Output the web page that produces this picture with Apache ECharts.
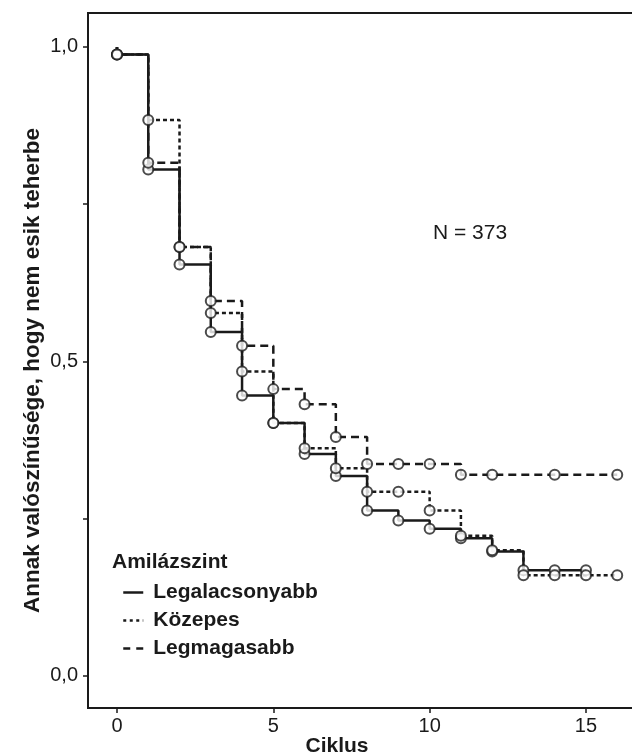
<!DOCTYPE html>
<html>
<head>
<meta charset="utf-8">
<script src="https://cdn.jsdelivr.net/npm/echarts@6/dist/echarts.min.js"></script>
<style>
html,body{margin:0;padding:0;background:#fff;}
#chart{width:632px;height:755px;}
</style>
</head>
<body>
<div id="chart"></div>
<script>
// ---- data ----
const START_VALUE = 1.0;
const lowTimes = [0,1,2,3,4,5,6,7,8,9,10,11,12,13,14,15];
const lowValues = [0.988,0.805,0.654,0.547,0.446,0.402,0.353,0.318,0.263,0.247,0.234,0.219,0.198,0.168,0.168,0.168];
const lowCensor = [0,1,2,3,4,5,6,7,8,9,10,11,12,13,14,15];

const midTimes = [0,1,2,3,4,5,6,7,8,9,10,11,12,13,14,15,16];
const midValues = [0.988,0.884,0.682,0.577,0.484,0.402,0.362,0.330,0.293,0.293,0.263,0.223,0.200,0.160,0.160,0.160,0.160];
const midCensor = [0,1,2,3,4,5,6,7,8,9,10,11,12,13,14,15,16];

const highTimes = [0,1,2,3,4,5,6,7,8,9,10,11,12,13,14,15,16];
const highValues = [0.988,0.816,0.682,0.596,0.525,0.456,0.432,0.380,0.337,0.337,0.337,0.320,0.320,0.320,0.320,0.320,0.320];
const highCensor = [0,1,2,3,4,5,6,7,8,9,10,11,12,14,16];

const seriesNames = ['Legalacsonyabb','Közepes','Legmagasabb'];
const legendTitle = 'Amilázszint';
const xTicks = [0,5,10,15];
const yTicks = [0,0.5,1.0];
const yMinorTicks = [0,0.25,0.5,0.75,1.0];
const xName = 'Ciklus';
const yName = 'Annak valószínűsége, hogy nem esik teherbe';
const annotation = 'N = 373';

// ---- build ----
function stepData(times, values){
  const d = [[times[0], START_VALUE]];
  for (let i=0;i<times.length;i++) d.push([times[i], values[i]]);
  return d;
}
function censorData(times, values, censor){
  return censor.map(t => [t, values[times.indexOf(t)]]);
}
const INK = '#1a1a1a';
const FONT = '"Liberation Sans", Arial, sans-serif';
const lineStyles = [
  {type:'solid', width:2.5},
  {type:[4,3], width:2.5},
  {type:[8,5], width:2.5}
];
const legendLineStyles = [
  {type:'solid', width:2.5, color:INK},
  {type:[3,3.5], width:2.5, color:INK},
  {type:[7,6], width:2.5, color:INK}
];
const sets = [
  [lowTimes, lowValues, lowCensor],
  [midTimes, midValues, midCensor],
  [highTimes, highValues, highCensor]
];
const series = [];
sets.forEach((s,i)=>{
  series.push({
    name: seriesNames[i], type:'line', step:'end', symbol:'none',
    data: stepData(s[0], s[1]),
    lineStyle: Object.assign({color: INK}, lineStyles[i]),
    itemStyle: {color: INK},
    animation:false, z:2
  });
});
sets.forEach((s,i)=>{
  series.push({
    name: 'c'+i, type:'scatter', symbol:'emptyCircle', symbolSize:10,
    data: censorData(s[0], s[1], s[2]),
    itemStyle: {color:'#1e1e1e', borderColor:'#1e1e1e', borderWidth:1.8},
    animation:false, z:3
  });
});

const chart = echarts.init(document.getElementById('chart'), null, {renderer:'canvas'});
chart.setOption({
  backgroundColor:'#fff',
  animation:false,
  grid:{left:88, top:13, width:548, height:695, show:true, borderColor:INK, borderWidth:2,
        containLabel:false, outerBoundsMode:'none'},
  xAxis:{
    type:'value', min:-0.927, max:16.6,
    name:xName, nameLocation:'middle', nameGap:28, nameMoveOverlap:false,
    nameTextStyle:{fontFamily:FONT, fontSize:21, fontWeight:'bold', color:INK, padding:[0,50,0,0]},
    axisLine:{show:true, onZero:false, lineStyle:{color:INK, width:2}},
    axisTick:{show:true, length:5, customValues:xTicks, lineStyle:{color:INK, width:1.5}},
    axisLabel:{customValues:xTicks, margin:8, fontFamily:FONT, fontSize:20, color:INK},
    splitLine:{show:false}
  },
  yAxis:{
    type:'value', min:-0.051, max:1.054,
    name:yName, nameLocation:'middle', nameGap:44, nameMoveOverlap:false,
    nameTextStyle:{fontFamily:FONT, fontSize:22.5, fontWeight:'bold', color:INK, padding:[0,20,0,0]},
    axisLine:{show:true, onZero:false, lineStyle:{color:INK, width:2}},
    axisTick:{show:true, length:5, customValues:yMinorTicks, lineStyle:{color:INK, width:1.5}},
    axisLabel:{customValues:yTicks, margin:10, fontFamily:FONT, fontSize:20, color:INK,
      formatter:v=>v.toFixed(1).replace('.',',')},
    splitLine:{show:false}
  },
  title:{text:legendTitle, left:107, top:547,
    textStyle:{fontFamily:FONT, fontSize:21, fontWeight:'bold', color:INK}},
  legend:{
    data:seriesNames.map((n,i)=>({name:n, itemStyle:{opacity:0}, lineStyle:legendLineStyles[i]})),
    orient:'vertical', left:117, top:577,
    itemWidth:20, itemHeight:14, itemGap:7,
    itemStyle:{opacity:0},
    textStyle:{fontFamily:FONT, fontSize:21, fontWeight:'bold', color:INK, padding:[0,0,0,5]},
    selectedMode:false
  },
  graphic:[{type:'text', left:433, top:223,
    style:{text:annotation, font:'21px "Liberation Sans", Arial, sans-serif', fill:INK}}],
  series:series
});
</script>
</body>
</html>
